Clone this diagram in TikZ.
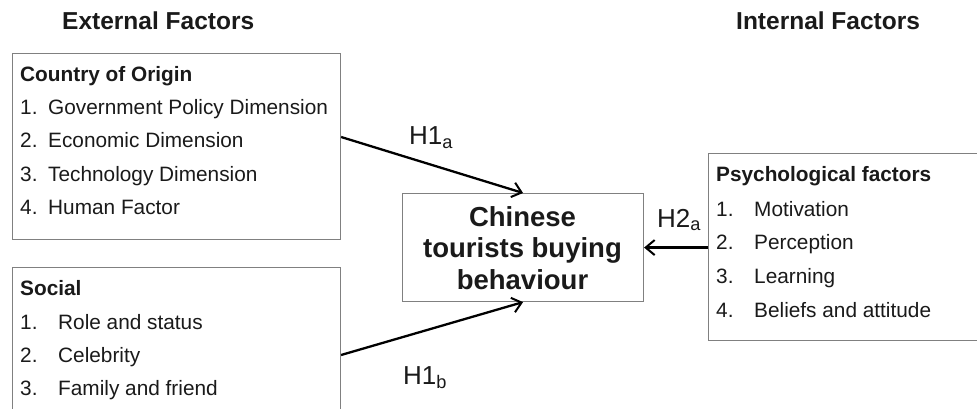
\documentclass[tikz,border=0pt]{standalone}
\usepackage{fontspec}
\setmainfont{Liberation Sans}
\usetikzlibrary{arrows.meta,calc}
\definecolor{txt}{HTML}{1A1A1A}
\definecolor{frame}{HTML}{808080}
\begin{document}
\begin{tikzpicture}[x=1pt,y=-1pt,
  lbl/.style={anchor=base west,inner sep=0pt,text=txt,font=\fontsize{20.8}{24}\selectfont},
  head/.style={lbl,font=\fontsize{20.8}{24}\selectfont\bfseries},
  title/.style={lbl,font=\fontsize{24.5}{28}\selectfont\bfseries},
  hyp/.style={lbl,font=\fontsize{26}{30}\selectfont},
  box/.style={draw=frame,line width=1.1pt,rectangle,inner sep=0pt,anchor=north west},
  arr/.style={line width=2.3pt,-{Straight Barb[length=9pt,width=15pt,line width=2pt]}}]
\useasboundingbox (0,0) rectangle (977,409);
\clip (0,0) rectangle (977,409);
\fill[white] (0,0) rectangle (977,409);
% titles
\node[title] (tex) at (62,30) {External Factors};
\node[title] (tin) at (736,30) {Internal Factors};
% boxes
\node[box,minimum width=328pt,minimum height=186pt] (b1) at (12,53) {};
\node[box,minimum width=328pt,minimum height=170pt] (b2) at (12,267) {};
\node[box,minimum width=241pt,minimum height=108pt] (ctr) at (402,193) {};
\node[box,minimum width=290pt,minimum height=187pt] (b3) at (708,153) {};
% box 1 text
\node[head] (h1) at (20,82) {Country of Origin};
\node[lbl] (n11) at (20,115) {1.};
\node[lbl] (t11) at (48,115) {Government Policy Dimension};
\node[lbl] (n12) at (20,148) {2.};
\node[lbl] (t12) at (48,148) {Economic Dimension};
\node[lbl] (n13) at (20,181) {3.};
\node[lbl] (t13) at (48,181) {Technology Dimension};
\node[lbl] (n14) at (20,214) {4.};
\node[lbl] (t14) at (48,214) {Human Factor};
% box 2 text
\node[head] (h2) at (20,295) {Social};
\node[lbl] (n21) at (20,329) {1.};
\node[lbl] (t21) at (58,329) {Role and status};
\node[lbl] (n22) at (20,362) {2.};
\node[lbl] (t22) at (58,362) {Celebrity};
\node[lbl] (n23) at (20,395) {3.};
\node[lbl] (t23) at (58,395) {Family and friend};
% box 3 text
\node[head] (h3) at (716,182) {Psychological factors};
\node[lbl] (n31) at (716,216) {1.};
\node[lbl] (t31) at (754,216) {Motivation};
\node[lbl] (n32) at (716,249) {2.};
\node[lbl] (t32) at (754,249) {Perception};
\node[lbl] (n33) at (716,283) {3.};
\node[lbl] (t33) at (754,283) {Learning};
\node[lbl] (n34) at (716,317) {4.};
\node[lbl] (t34) at (754,317) {Beliefs and attitude};
% centre text
\node[anchor=center,inner sep=0pt,text=txt,align=center,
  font=\fontsize{27.5}{31.5}\selectfont\bfseries] (ctxt) at (522.5,248)
  {Chinese\\tourists buying\\behaviour};
% connectors
\coordinate (s1) at ($(b1.north east)+(0,84)$);
\coordinate (s2) at ($(b2.north east)+(0,88)$);
\draw[arr] (s1) -- (ctr.north);
\draw[arr] (s2) -- (ctr.south);
\draw[arr] (ctr.east -| b3.west) -- (ctr.east);
% hypothesis labels
\node[hyp] (l1) at (409,145) {H1\textsubscript{a}};
\node[hyp] (l2) at (403,384) {H1\textsubscript{b}};
\node[hyp] (l3) at (657,227) {H2\textsubscript{a}};
\end{tikzpicture}
\end{document}
